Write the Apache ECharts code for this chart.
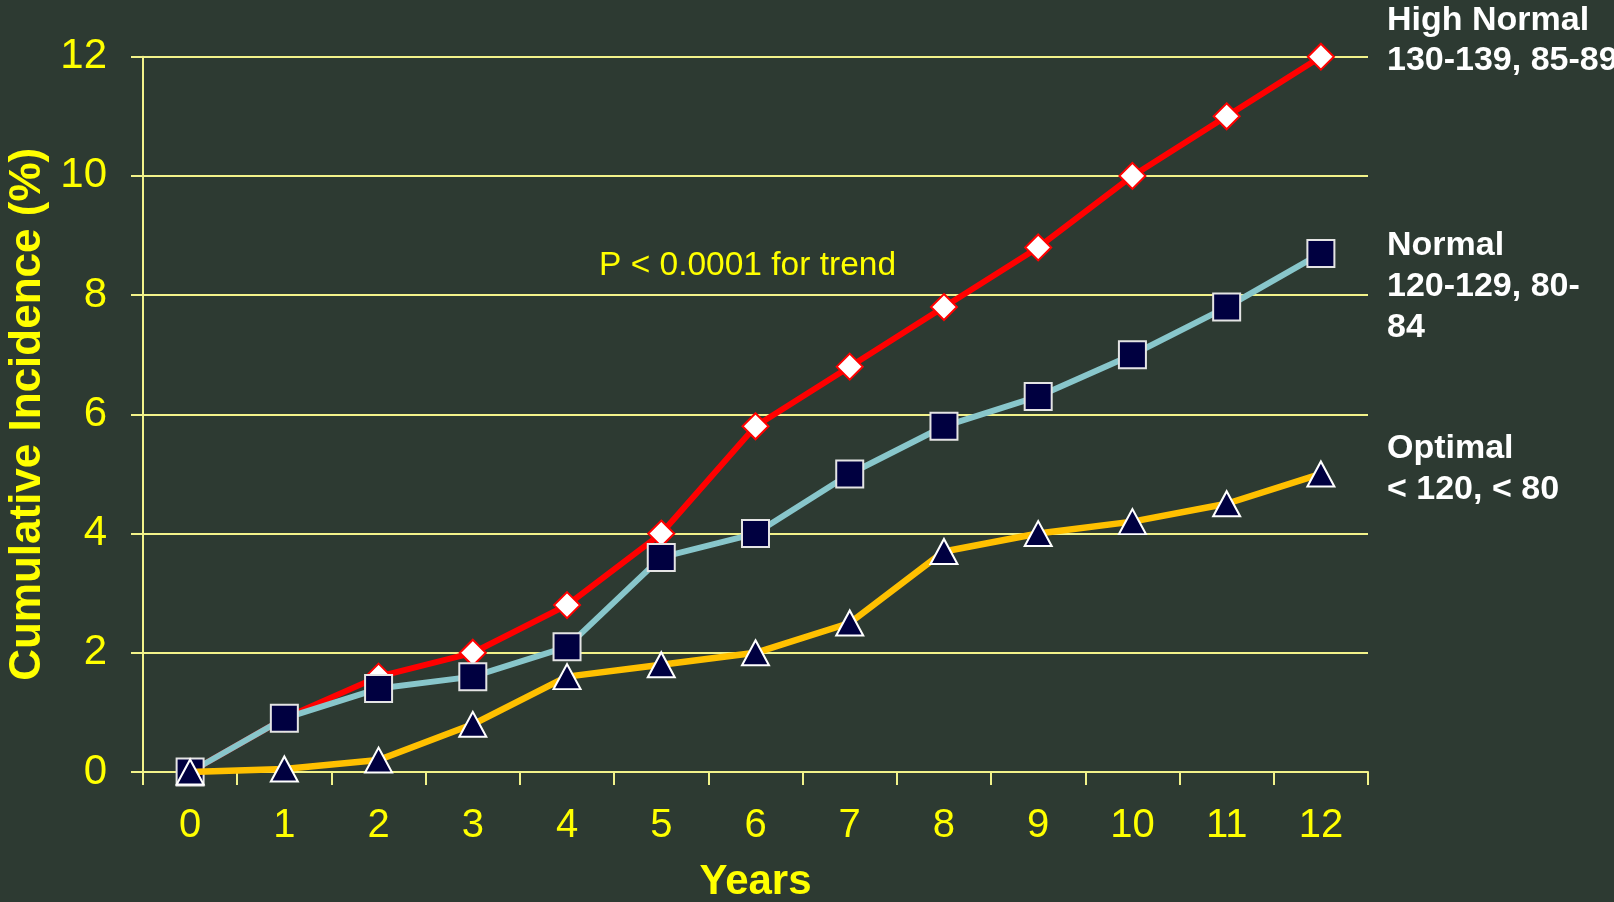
<!DOCTYPE html>
<html>
<head>
<meta charset="utf-8">
<title>Cumulative Incidence by Blood Pressure Category</title>
<script src="https://cdn.jsdelivr.net/npm/echarts@6/dist/echarts.min.js"></script>
<style>
  html, body { margin: 0; padding: 0; background: #2d3a32; }
  #chart { width: 1614px; height: 902px; }
</style>
</head>
<body>
<div id="chart"></div>
<script>
// Follow-up years
const years = ['0', '1', '2', '3', '4', '5', '6', '7', '8', '9', '10', '11', '12'];

// Cumulative incidence (%) per blood pressure category
const highNormal = [0, 0.9, 1.6, 2.0, 2.8, 4.0, 5.8, 6.8, 7.8, 8.8, 10.0, 11.0, 12.0];
const normal     = [0, 0.9, 1.4, 1.6, 2.1, 3.6, 4.0, 5.0, 5.8, 6.3, 7.0, 7.8, 8.7];
const optimal    = [0, 0.05, 0.2, 0.8, 1.6, 1.8, 2.0, 2.5, 3.7, 4.0, 4.2, 4.5, 5.0];

// Category labels shown at the right of the plot
const categoryLabels = {
  highNormal: 'High Normal\n130-139, 85-89',
  normal: 'Normal\n120-129, 80-\n84',
  optimal: 'Optimal\n< 120, < 80'
};
const trendNote = 'P < 0.0001 for trend';

const FONT = '"Liberation Sans", Arial, sans-serif';
const YELLOW = '#ffff00';
const PALE = '#f2f28a';

const chart = echarts.init(document.getElementById('chart'), null, { renderer: 'canvas' });

chart.setOption({
  backgroundColor: '#2d3a32',
  animation: false,
  textStyle: { fontFamily: FONT },
  grid: {
    left: 143, top: 56.7, right: 246, bottom: 130,
    containLabel: false,
    outerBoundsMode: 'none'
  },
  xAxis: {
    type: 'category',
    data: years,
    boundaryGap: true,
    name: 'Years',
    nameLocation: 'middle',
    nameGap: 89,
    nameTextStyle: { color: YELLOW, fontSize: 42, fontWeight: 'bold', fontFamily: FONT },
    axisLine: { show: true, lineStyle: { color: PALE, width: 2 } },
    axisTick: { show: true, length: 13, inside: false, lineStyle: { color: PALE, width: 2 } },
    axisLabel: { color: YELLOW, fontSize: 40, margin: 34, fontFamily: FONT },
    splitLine: { show: false }
  },
  yAxis: {
    type: 'value',
    min: 0,
    max: 12,
    interval: 2,
    name: 'Cumulative Incidence (%)',
    nameLocation: 'middle',
    nameGap: 88,
    nameTextStyle: { color: YELLOW, fontSize: 44, fontWeight: 'bold', fontFamily: FONT },
    axisLine: { show: true, lineStyle: { color: PALE, width: 2 } },
    axisTick: { show: true, length: 12, inside: false, lineStyle: { color: PALE, width: 2 } },
    axisLabel: { color: YELLOW, fontSize: 42, margin: 36, fontFamily: FONT },
    splitLine: { show: true, lineStyle: { color: PALE, width: 2 } }
  },
  series: [
    {
      name: 'High Normal',
      type: 'line',
      data: highNormal,
      symbol: 'diamond',
      symbolSize: 26,
      showAllSymbol: true,
      lineStyle: { color: '#ff0000', width: 6 },
      itemStyle: { color: '#ffffff', borderColor: '#ff0000', borderWidth: 2 },
      z: 2
    },
    {
      name: 'Normal',
      type: 'line',
      data: normal,
      symbol: 'rect',
      symbolSize: 27,
      showAllSymbol: true,
      lineStyle: { color: '#88c6cb', width: 6 },
      itemStyle: { color: '#000040', borderColor: '#e4e4e4', borderWidth: 2 },
      z: 3
    },
    {
      name: 'Optimal',
      type: 'line',
      data: optimal,
      symbol: 'triangle',
      symbolSize: [27, 25],
      showAllSymbol: true,
      lineStyle: { color: '#ffc000', width: 6.5 },
      itemStyle: { color: '#000040', borderColor: '#ffffff', borderWidth: 2 },
      z: 4
    }
  ],
  graphic: [
    {
      type: 'text', left: 599, top: 249,
      style: { text: trendNote, fill: YELLOW, font: '33.5px ' + FONT }
    },
    {
      type: 'text', left: 1387, top: 1,
      style: { text: categoryLabels.highNormal, fill: '#ffffff', font: 'bold 34px ' + FONT, lineHeight: 40 }
    },
    {
      type: 'text', left: 1387, top: 225,
      style: { text: categoryLabels.normal, fill: '#ffffff', font: 'bold 34px ' + FONT, lineHeight: 41 }
    },
    {
      type: 'text', left: 1387, top: 428,
      style: { text: categoryLabels.optimal, fill: '#ffffff', font: 'bold 34px ' + FONT, lineHeight: 41 }
    }
  ]
});
</script>
</body>
</html>
